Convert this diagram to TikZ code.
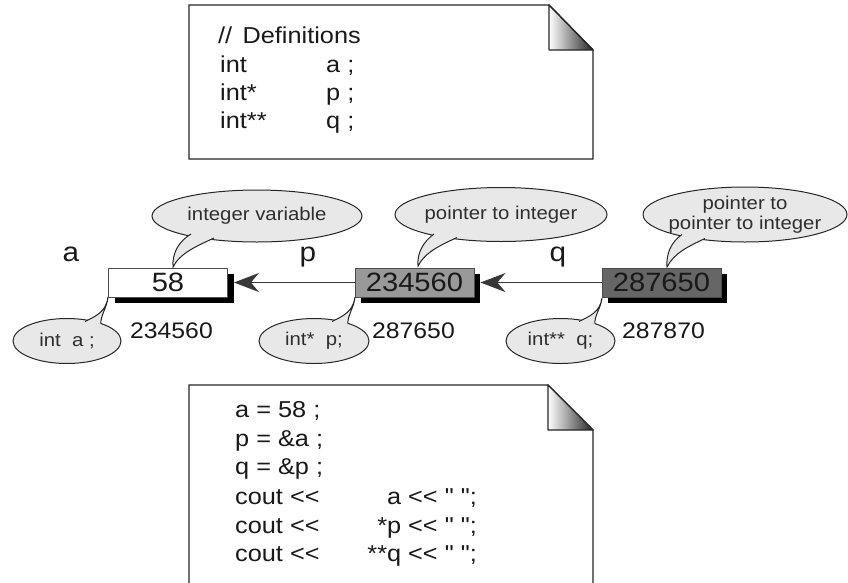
\documentclass[tikz,border=0pt]{standalone}
\usepackage{fontspec}
\setmainfont{Liberation Sans}[FakeStretch=1.1,Ligatures=TeXOff]
\usetikzlibrary{arrows.meta,shapes.geometric,shadows}

% tail of a speech bubble: base point A, tip T, base point B
\newcommand\bubtail[7]{%
  \fill[bubfill] #1 .. controls #2 and #3 .. #4 .. controls #5 and #6 .. #7 -- cycle;
  \draw[bubline] #1 .. controls #2 and #3 .. #4 .. controls #5 and #6 .. #7;}

\begin{document}
\begin{tikzpicture}[x=1pt,y=-1pt,
  noteline/.style={draw=black!85,line width=1.4pt,fill=white},
  foldshade/.style={left color=white,right color=black!85},
  code/.style={font=\fontsize{23}{27}\selectfont,text=black!90,inner sep=0pt,anchor=base west},
  coderight/.style={code,anchor=base east},
  cell/.style={draw=black!70,line width=0.8pt,minimum width=119pt,minimum height=29pt,
    inner sep=0pt,font=\fontsize{26.5}{30}\selectfont,text=black!90,
    drop shadow={shadow xshift=6pt,shadow yshift=-6pt,opacity=1,fill=black}},
  ptr/.style={draw=black!78,line width=1.8pt,-{Stealth[length=25pt,width=19pt,inset=8pt]}},
  varname/.style={font=\fontsize{27}{30}\selectfont,text=black!90,inner sep=0pt,anchor=base},
  addr/.style={font=\fontsize{22.5}{26}\selectfont,text=black!90,inner sep=0pt,anchor=base west},
  bubfill/.style={fill=black!9},
  bubline/.style={draw=black!85,line width=1pt},
  bub/.style={ellipse,bubfill,bubline,inner sep=0pt},
  bubtext/.style={font=\fontsize{18.5}{19.5}\selectfont,text=black!82,align=center,inner sep=0pt}]
\useasboundingbox (0,0) rectangle (848,582);

% ---- declarations sheet ----
\path[noteline] (189,5) -- (549,5) -- (593,50) -- (593,159) -- (189,159) -- cycle;
\shade[foldshade] (549,5) -- (549,50) -- (593,50) -- cycle;
\draw[black!85,line width=1.4pt,line join=round] (549,5) -- (549,50) -- (593,50) -- cycle;
\node[code] (d0) at (218,43) {//\hspace{0.45em}Definitions};
\node[code] (d1) at (220,72) {int};
\node[code] (d2) at (220,100) {int*};
\node[code] (d3) at (220,128) {int**};
\node[code] (e1) at (326,72) {a ;};
\node[code] (e2) at (326,100) {p ;};
\node[code] (e3) at (326,128) {q ;};

% ---- memory cells ----
\node[cell,fill=white]    (ba) at (168,282.5) {58};
\node[cell,fill=black!40] (bp) at (414.5,282.5) {234560};
\node[cell,fill=black!60] (bq) at (661.5,282.5) {287650};
\draw[ptr] (bp.west) -- ([xshift=6pt]ba.east);
\draw[ptr] (bq.west) -- ([xshift=6pt]bp.east);

\node[varname] (na) at (71,261) {a};
\node[varname] (np) at (308,261) {p};
\node[varname] (nq) at (558,261) {q};

\node[addr] (aa) at (130,338) {234560};
\node[addr] (ap) at (372,338) {287650};
\node[addr] (aq) at (622,338) {287870};

% ---- upper bubbles ----
\node[bub,minimum width=210pt,minimum height=52pt] (u1) at (257,216) {};
\bubtail{(191,234)}{(179,241)}{(172,253)}{(173,267)}{(180,253)}{(197,246)}{(214,238)}
\node[bubtext] (t1) at (u1.center) {integer variable};

\node[bub,minimum width=212pt,minimum height=54pt] (u2) at (501,214.5) {};
\bubtail{(434,234)}{(423,242)}{(417,253)}{(418,266)}{(425,252)}{(441,245)}{(457,237.5)}
\node[bubtext] (t2) at (u2.center) {pointer to integer};

\node[bub,minimum width=204pt,minimum height=55pt] (u3) at (745,214.5) {};
\bubtail{(682,234.5)}{(671,242)}{(666,254)}{(667,267)}{(674,253)}{(689,246)}{(705,238.5)}
\node[bubtext] (t3) at (u3.center) {pointer to\\pointer to integer};

% ---- lower bubbles ----
\node[bub,minimum width=108pt,minimum height=45pt] (l1) at (67,341) {};
\bubtail{(85,321.5)}{(96,316)}{(106,312)}{(108,297)}{(107,308)}{(100,316)}{(101,324)}
\node[bubtext] (s1) at (l1.center) {int\ \ a ;};

\node[bub,minimum width=110pt,minimum height=45pt] (l2) at (314,341) {};
\bubtail{(332,321.5)}{(343,316)}{(353,312)}{(355,297)}{(354,308)}{(347,316)}{(348,324)}
\node[bubtext] (s2) at (l2.center) {int*\ \ p;};

\node[bub,minimum width=109pt,minimum height=45pt] (l3) at (560.5,341) {};
\bubtail{(579,321.5)}{(590,316)}{(600,312)}{(602,298)}{(601,308)}{(594,316)}{(595,324)}
\node[bubtext] (s3) at (l3.center) {int**\ \ q;};

% ---- statements sheet (runs off the lower edge) ----
\path[noteline] (189,584) -- (189,385) -- (548,385) -- (593,430) -- (593,584);
\shade[foldshade] (548,385) -- (548,430) -- (593,430) -- cycle;
\draw[black!85,line width=1.4pt,line join=round] (548,385) -- (548,430) -- (593,430) -- cycle;
\node[code] (c1) at (235,417) {a = 58 ;};
\node[code] (c2) at (235,446) {p = \&a ;};
\node[code] (c3) at (235,474) {q = \&p ;};
\node[code] (c4) at (235,504) {cout <<};
\node[code] (c5) at (235,533) {cout <<};
\node[code] (c6) at (235,561) {cout <<};
\node[coderight] (r4) at (477,504) {a << " ";};
\node[coderight] (r5) at (477,533) {*p << " ";};
\node[coderight] (r6) at (477,561) {**q << " ";};
\end{tikzpicture}
\end{document}
